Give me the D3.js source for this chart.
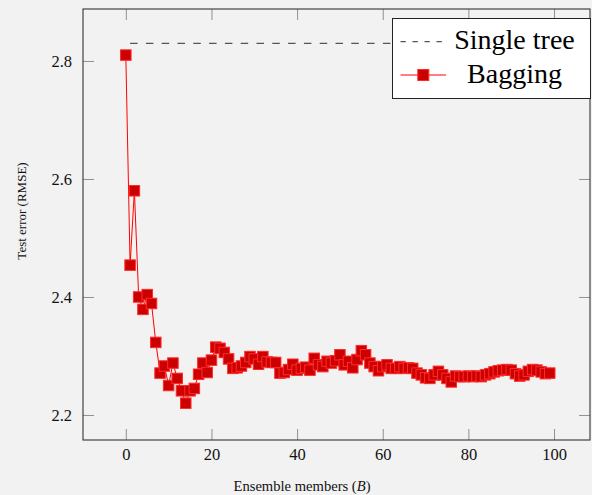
<!DOCTYPE html>
<html>
<head>
<meta charset="utf-8">
<script src="https://cdn.jsdelivr.net/npm/d3@7"></script>
<style>
  html, body { margin: 0; padding: 0; background: #f2f2f2; }
  svg { display: block; }
</style>
</head>
<body>
<svg id="chart" width="592" height="495"></svg>
<script>
// ---- data ----
const ensembleMembers = [
  0,1,2,3,4,5,6,7,8,9,10,11,12,13,14,15,16,17,18,19,
  20,21,22,23,24,25,26,27,28,29,30,31,32,33,34,35,36,37,38,39,
  40,41,42,43,44,45,46,47,48,49,50,51,52,53,54,55,56,57,58,59,
  60,61,62,63,64,65,66,67,68,69,70,71,72,73,74,75,76,77,78,79,
  80,81,82,83,84,85,86,87,88,89,90,91,92,93,94,95,96,97,98,99
];
const baggingRMSE = [
  2.810,2.454,2.580,2.400,2.379,2.404,2.389,2.323,2.271,2.283,
  2.250,2.288,2.262,2.241,2.220,2.241,2.245,2.269,2.288,2.272,
  2.293,2.315,2.313,2.306,2.295,2.279,2.280,2.283,2.289,2.299,
  2.295,2.286,2.299,2.290,2.289,2.289,2.271,2.272,2.277,2.286,
  2.276,2.279,2.281,2.276,2.296,2.285,2.282,2.291,2.288,2.292,
  2.302,2.285,2.291,2.280,2.294,2.309,2.302,2.288,2.282,2.275,
  2.282,2.285,2.279,2.279,2.282,2.279,2.280,2.279,2.271,2.268,
  2.263,2.262,2.268,2.274,2.268,2.262,2.256,2.266,2.265,2.265,
  2.266,2.265,2.266,2.265,2.268,2.270,2.273,2.275,2.276,2.277,
  2.276,2.270,2.266,2.268,2.274,2.277,2.276,2.273,2.270,2.271
];
const singleTreeB = [1, 100];
const singleTreeRMSE = [2.83, 2.83];
const xTicks = [0, 20, 40, 60, 80, 100];
const yTicks = [2.2, 2.4, 2.6, 2.8];
const legendLabels = ["Single tree", "Bagging"];

(function () {
// ---- layout ----
const pL = 83, pR = 590, pT = 9, pB = 440;
const svg = d3.select("#chart");
const serif = "'Liberation Serif', 'Times New Roman', serif";

const x = d3.scaleLinear().domain([-10, 108.4]).range([pL, pR]);
const y = d3.scaleLinear().domain([2.1576, 2.8881]).range([pB, pT]);

// background
svg.append("rect").attr("width", 592).attr("height", 495).attr("fill", "#f2f2f2");

// axes (ticks pointing inward)
const tickColor = "#909090";
function styleAxis(g) {
  g.select(".domain").remove();
  g.attr("font-family", serif);
  g.selectAll(".tick line").attr("stroke", tickColor).attr("stroke-width", 1);
}
const gx = svg.append("g").attr("transform", `translate(0,${pB})`)
  .call(d3.axisBottom(x).tickValues(xTicks).tickSize(-11).tickPadding(9).tickFormat(d3.format("d")));
styleAxis(gx);
gx.selectAll(".tick text").attr("font-family", serif).attr("font-size", 16.5)
  .attr("fill", "#111").attr("dy", null).attr("y", 20);

const gxTop = svg.append("g").attr("transform", `translate(0,${pT})`)
  .call(d3.axisTop(x).tickValues(xTicks).tickSize(-11).tickFormat(""));
styleAxis(gxTop);

const gy = svg.append("g").attr("transform", `translate(${pL},0)`)
  .call(d3.axisLeft(y).tickValues(yTicks).tickSize(-11).tickFormat(d3.format(".1f")));
styleAxis(gy);
gy.selectAll(".tick text").attr("font-family", serif).attr("font-size", 16.5)
  .attr("fill", "#111").attr("x", -11).attr("dy", "0.36em");

const gyRight = svg.append("g").attr("transform", `translate(${pR},0)`)
  .call(d3.axisRight(y).tickValues(yTicks).tickSize(-11).tickFormat(""));
styleAxis(gyRight);

// frame
svg.append("rect")
  .attr("x", pL).attr("y", pT)
  .attr("width", pR - pL).attr("height", pB - pT)
  .attr("fill", "none").attr("stroke", "#333").attr("stroke-width", 1.1);

// clip
svg.append("clipPath").attr("id", "plotclip").append("rect")
  .attr("x", pL).attr("y", pT).attr("width", pR - pL).attr("height", pB - pT);
const plot = svg.append("g").attr("clip-path", "url(#plotclip)");

// single tree dashed line
const line = d3.line().x(d => x(d[0])).y(d => y(d[1]));
plot.append("path")
  .datum(singleTreeB.map((b, i) => [b, singleTreeRMSE[i]]))
  .attr("d", line)
  .attr("fill", "none").attr("stroke", "#555").attr("stroke-width", 1.2)
  .attr("stroke-dasharray", "7.5,8.3");

// bagging line + markers
const bagData = ensembleMembers.map((b, i) => [b, baggingRMSE[i]]);
plot.append("path")
  .datum(bagData)
  .attr("d", line)
  .attr("fill", "none").attr("stroke", "#ff0000").attr("stroke-width", 1);

const ms = 10.5;
plot.selectAll("rect.mark").data(bagData).enter().append("rect")
  .attr("class", "mark")
  .attr("x", d => x(d[0]) - ms / 2).attr("y", d => y(d[1]) - ms / 2)
  .attr("width", ms).attr("height", ms)
  .attr("fill", "#cc0000").attr("stroke", "#ff2a2a").attr("stroke-width", 1);

// axis labels
svg.append("text")
  .attr("x", 302).attr("y", 491)
  .attr("text-anchor", "middle")
  .attr("font-family", serif).attr("font-size", 14.6).attr("fill", "#111")
  .html("Ensemble members (<tspan font-style='italic'>B</tspan>)");

svg.append("text")
  .attr("transform", "translate(25.5,211) rotate(-90)")
  .attr("text-anchor", "middle")
  .attr("font-family", serif).attr("font-size", 13).attr("fill", "#111")
  .text("Test error (RMSE)");

// legend
const lg = svg.append("g");
lg.append("rect")
  .attr("x", 392.5).attr("y", 18.5).attr("width", 198).attr("height", 80)
  .attr("fill", "#ffffff").attr("stroke", "#222").attr("stroke-width", 1);
lg.append("line")
  .attr("x1", 400.5).attr("x2", 442).attr("y1", 41.7).attr("y2", 41.7)
  .attr("stroke", "#555").attr("stroke-width", 1.2).attr("stroke-dasharray", "5.3,6.7");
lg.append("line")
  .attr("x1", 400.5).attr("x2", 446).attr("y1", 75).attr("y2", 75)
  .attr("stroke", "#ff0000").attr("stroke-width", 1);
lg.append("rect")
  .attr("x", 423.3 - 5.5).attr("y", 75 - 5.5).attr("width", 11).attr("height", 11)
  .attr("fill", "#cc0000").attr("stroke", "#ff2a2a").attr("stroke-width", 1);
lg.selectAll("text.leg").data(legendLabels).enter().append("text")
  .attr("class", "leg")
  .attr("x", 514.5).attr("y", (d, i) => i === 0 ? 49 : 82.7)
  .attr("text-anchor", "middle")
  .attr("font-family", serif).attr("font-size", 28).attr("fill", "#000")
  .text(d => d);
})();
</script>
</body>
</html>
